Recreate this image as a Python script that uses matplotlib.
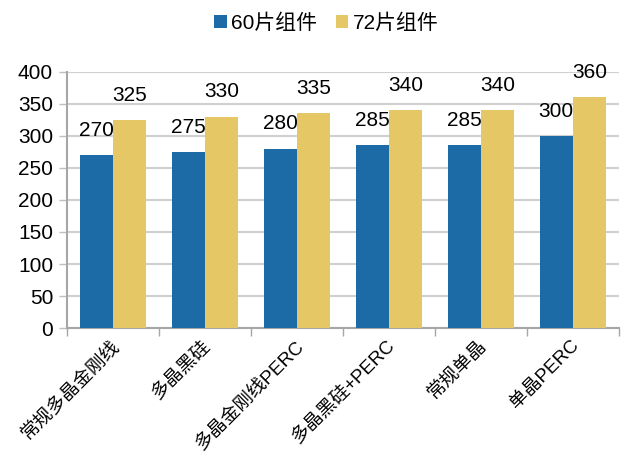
import matplotlib.pyplot as plt
import numpy as np

plt.rcParams['font.family'] = ['Liberation Sans', 'Noto Sans CJK SC']

categories = ['常规多晶金刚线', '多晶黑硅', '多晶金刚线PERC', '多晶黑硅+PERC', '常规单晶', '单晶PERC']
series_names = ['60片组件', '72片组件']
power_60 = [270, 275, 280, 285, 285, 300]
power_72 = [325, 330, 335, 340, 340, 360]
colors = ['#1C6BA6', '#E5C865']

fig = plt.figure(figsize=(6.32, 4.57), dpi=100)
ax = fig.add_axes([0.106, 0.282, 0.873, 0.561])

x = np.arange(len(categories))
w = 0.36
b1 = ax.bar(x - w / 2, power_60, w, color=colors[0], label=series_names[0], zorder=3)
b2 = ax.bar(x + w / 2, power_72, w, color=colors[1], label=series_names[1], zorder=3)

for bars in (b1, b2):
    for rect in bars:
        ax.annotate(f'{rect.get_height():.0f}',
                    (rect.get_x() + rect.get_width() / 2, rect.get_height()),
                    xytext=(0, 11), textcoords='offset points',
                    ha='center', va='bottom', fontsize=15, color='black', zorder=4)

ax.set_xlim(-0.5, len(categories) - 0.5)
ax.set_ylim(0, 400)
ax.set_yticks(range(0, 401, 50))
ax.tick_params(axis='y', labelsize=15, length=6, color='#BFBFBF', width=1, pad=4)
ax.yaxis.grid(True, color='#D0D0D0', linewidth=1.5, zorder=0)

# category boundaries carry the tick marks, labels sit at the centres
ax.set_xticks(np.arange(len(categories) + 1) - 0.5)
ax.set_xticklabels([])
ax.tick_params(axis='x', length=6, color='#A6A6A6', width=1)
for xi, name in zip(x, categories):
    ax.text(xi - 0.03, -14, name, rotation=45, ha='right', va='top',
            rotation_mode='anchor', fontsize=13.5, transform=ax.transData)

for side in ('top', 'right'):
    ax.spines[side].set_visible(False)
ax.spines['left'].set_color('#A6A6A6')
ax.spines['bottom'].set_color('#A6A6A6')
ax.spines['left'].set_linewidth(1.5)
ax.spines['bottom'].set_linewidth(1.5)

ax.legend(loc='upper center', bbox_to_anchor=(0.47, 1.30), ncol=2, frameon=False,
          fontsize=15, handlelength=0.6, handleheight=0.6, handletextpad=0.2,
          columnspacing=0.9)

fig.savefig('out.png', dpi=100)
